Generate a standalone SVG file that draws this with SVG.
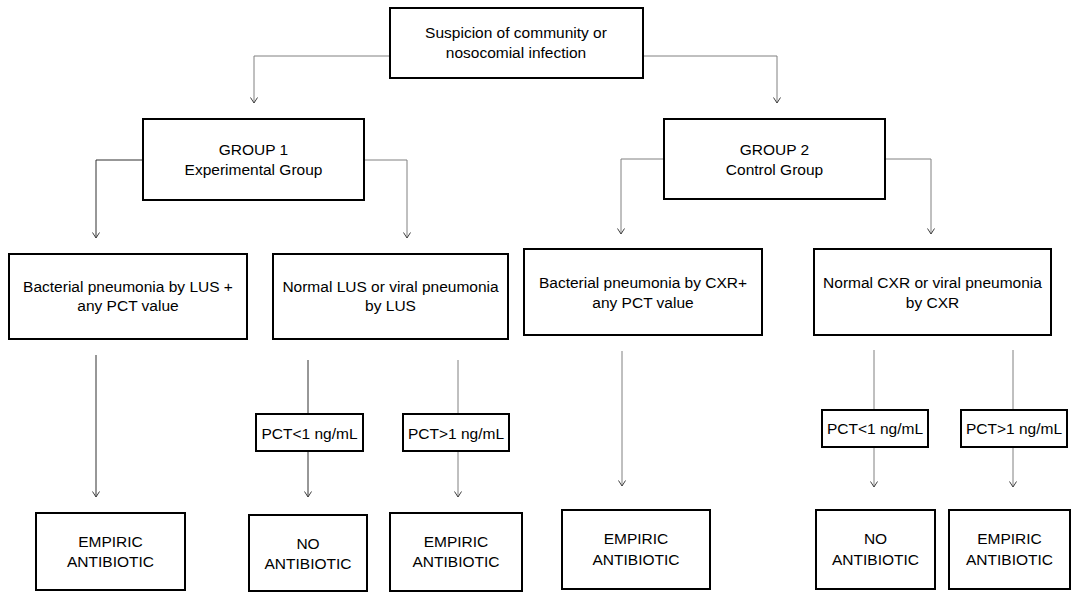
<svg xmlns="http://www.w3.org/2000/svg" width="1073" height="592" viewBox="0 0 1073 592">
<defs>
<style>
.box{fill:#fff;stroke:#000;stroke-width:2}
.t{font-family:"Liberation Sans",Arial,sans-serif;font-size:15.5px;fill:#000;text-anchor:middle}
.c{fill:none;stroke:#808080;stroke-width:1}
.d{fill:none;stroke:#303030;stroke-width:1}
</style>
<marker id="ah" markerUnits="userSpaceOnUse" markerWidth="12" markerHeight="12" refX="0" refY="0" orient="auto" viewBox="-7 -6 8 12" overflow="visible">
<path d="M-5.5,-3.5 L0,0 L-5.5,3.5" fill="none" stroke="#404040" stroke-width="1"/>
</marker>
</defs>
<rect width="1073" height="592" fill="#fff"/>
<g id="connectors">
<path class="c" d="M390,56 H254 V103" marker-end="url(#ah)"/>
<path class="c" d="M643,56 H777 V103" marker-end="url(#ah)"/>
<path class="d" d="M143,160 H96 V238" marker-end="url(#ah)"/>
<path class="c" d="M364,160 H407 V238" marker-end="url(#ah)"/>
<path class="c" d="M664,159 H621 V234" marker-end="url(#ah)"/>
<path class="c" d="M885,159 H931 V234" marker-end="url(#ah)"/>
<path class="d" d="M96,355 V497" marker-end="url(#ah)"/>
<path class="d" d="M308,360 V414"/>
<path class="d" d="M308,451 V497" marker-end="url(#ah)"/>
<path class="c" d="M458,360 V414"/>
<path class="c" d="M458,451 V497" marker-end="url(#ah)"/>
<path class="c" d="M622,351 V486" marker-end="url(#ah)"/>
<path class="c" d="M874,350 V410"/>
<path class="c" d="M874,447 V487" marker-end="url(#ah)"/>
<path class="c" d="M1013,350 V410"/>
<path class="c" d="M1013,447 V487" marker-end="url(#ah)"/>
</g>
<g id="start">
<rect class="box" x="390" y="8" width="253" height="70"/>
<text class="t" x="516" y="38">Suspicion of community or</text>
<text class="t" x="516" y="58">nosocomial infection</text>
</g>
<g id="group1">
<rect class="box" x="143" y="119" width="221" height="81"/>
<text class="t" x="253.5" y="155">GROUP 1</text>
<text class="t" x="253.5" y="175">Experimental Group</text>
</g>
<g id="group2">
<rect class="box" x="664" y="119" width="221" height="80"/>
<text class="t" x="774.5" y="155">GROUP 2</text>
<text class="t" x="774.5" y="175">Control Group</text>
</g>
<g id="bact-lus">
<rect class="box" x="9" y="254" width="238" height="85"/>
<text class="t" x="128" y="292">Bacterial pneumonia by LUS +</text>
<text class="t" x="128" y="311">any PCT value</text>
</g>
<g id="normal-lus">
<rect class="box" x="273" y="254" width="235" height="85"/>
<text class="t" x="390.5" y="292">Normal LUS or viral pneumonia</text>
<text class="t" x="390.5" y="311">by LUS</text>
</g>
<g id="bact-cxr">
<rect class="box" x="524" y="249" width="238" height="86"/>
<text class="t" x="643" y="288">Bacterial pneumonia by CXR+</text>
<text class="t" x="643" y="307.5">any PCT value</text>
</g>
<g id="normal-cxr">
<rect class="box" x="814" y="249" width="237" height="86"/>
<text class="t" x="932.5" y="288">Normal CXR or viral pneumonia</text>
<text class="t" x="932.5" y="307.5">by CXR</text>
</g>
<g id="pct-low-1">
<rect class="box" x="256" y="414" width="107" height="37"/>
<text class="t" x="309.5" y="438.5">PCT&lt;1 ng/mL</text>
</g>
<g id="pct-high-1">
<rect class="box" x="403" y="414" width="106" height="37"/>
<text class="t" x="456" y="438.5">PCT&gt;1 ng/mL</text>
</g>
<g id="pct-low-2">
<rect class="box" x="822" y="410" width="106" height="37"/>
<text class="t" x="875" y="434">PCT&lt;1 ng/mL</text>
</g>
<g id="pct-high-2">
<rect class="box" x="961" y="410" width="106" height="37"/>
<text class="t" x="1014" y="434">PCT&gt;1 ng/mL</text>
</g>
<g id="empiric-1">
<rect class="box" x="36" y="513" width="149" height="77"/>
<text class="t" x="110.5" y="547">EMPIRIC</text>
<text class="t" x="110.5" y="567">ANTIBIOTIC</text>
</g>
<g id="no-1">
<rect class="box" x="249" y="515" width="118" height="76"/>
<text class="t" x="308" y="549">NO</text>
<text class="t" x="308" y="569">ANTIBIOTIC</text>
</g>
<g id="empiric-2">
<rect class="box" x="390" y="513" width="132" height="78"/>
<text class="t" x="456" y="547">EMPIRIC</text>
<text class="t" x="456" y="567">ANTIBIOTIC</text>
</g>
<g id="empiric-3">
<rect class="box" x="562" y="510" width="148" height="79"/>
<text class="t" x="636" y="544">EMPIRIC</text>
<text class="t" x="636" y="565">ANTIBIOTIC</text>
</g>
<g id="no-2">
<rect class="box" x="816" y="510" width="119" height="79"/>
<text class="t" x="875.5" y="544">NO</text>
<text class="t" x="875.5" y="565">ANTIBIOTIC</text>
</g>
<g id="empiric-4">
<rect class="box" x="949" y="510" width="121" height="79"/>
<text class="t" x="1009.5" y="544">EMPIRIC</text>
<text class="t" x="1009.5" y="565">ANTIBIOTIC</text>
</g>
</svg>
